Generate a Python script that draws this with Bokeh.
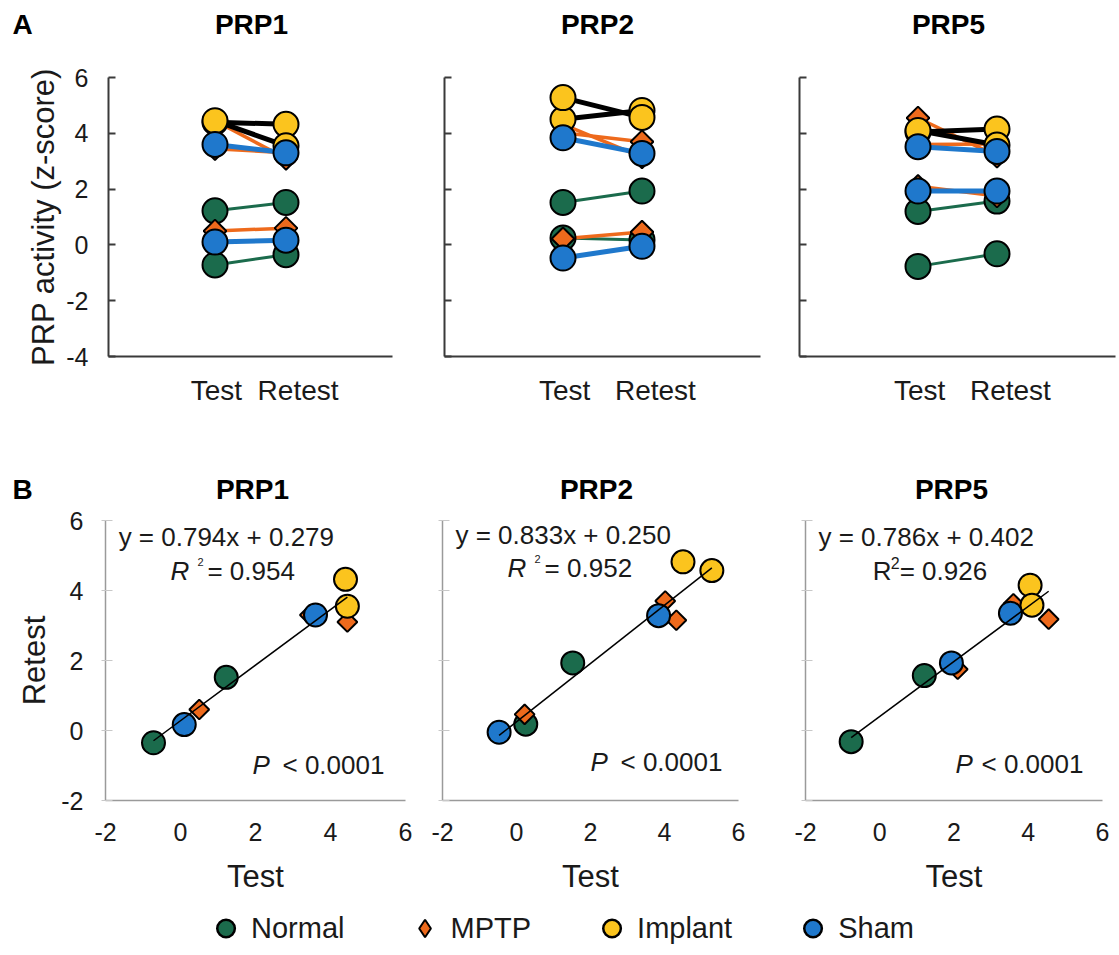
import numpy as np
from bokeh.plotting import figure
from bokeh.layouts import column, row
from bokeh.models import FixedTicker, Label, Legend, LegendItem, Range1d
from bokeh.embed import file_html
from bokeh.resources import INLINE

FONT = "Liberation Sans"

# ---------------- data ----------------
groups = ["Normal", "MPTP", "Implant", "Sham"]
panel_names = ["PRP1", "PRP2", "PRP5"]
phase_labels = ["Test", "Retest"]
phase_x = [1, 2]

# PRP1
prp1_normal_test = [-0.72, 1.22]
prp1_normal_retest = [-0.35, 1.52]
prp1_mptp_test = [0.50, 3.45, 4.45]
prp1_mptp_retest = [0.60, 3.30, 3.10]
prp1_implant_test = [4.40, 4.45]
prp1_implant_retest = [4.32, 3.55]
prp1_sham_test = [0.10, 3.60]
prp1_sham_retest = [0.17, 3.30]

# PRP2
prp2_normal_test = [0.25, 1.52]
prp2_normal_retest = [0.18, 1.93]
prp2_mptp_test = [0.22, 4.02, 4.32]
prp2_mptp_retest = [0.46, 3.70, 3.15]
prp2_implant_test = [4.50, 5.28]
prp2_implant_retest = [4.82, 4.57]
prp2_sham_test = [-0.47, 3.84]
prp2_sham_retest = [-0.05, 3.28]

# PRP5
prp5_normal_test = [-0.77, 1.20]
prp5_normal_retest = [-0.32, 1.57]
prp5_mptp_test = [2.10, 3.60, 4.55]
prp5_mptp_retest = [1.75, 3.62, 3.18]
prp5_implant_test = [4.05, 4.10]
prp5_implant_retest = [4.15, 3.58]
prp5_sham_test = [1.93, 3.52]
prp5_sham_retest = [1.93, 3.35]

fit_slopes = [0.794, 0.833, 0.786]
fit_intercepts = [0.279, 0.250, 0.402]
fit_r2 = [0.954, 0.952, 0.926]
p_text = "< 0.0001"

top_yticks = [-4, -2, 0, 2, 4, 6]
bottom_ticks = [-2, 0, 2, 4, 6]

panels_test = [
    {"Normal": prp1_normal_test, "MPTP": prp1_mptp_test, "Implant": prp1_implant_test, "Sham": prp1_sham_test},
    {"Normal": prp2_normal_test, "MPTP": prp2_mptp_test, "Implant": prp2_implant_test, "Sham": prp2_sham_test},
    {"Normal": prp5_normal_test, "MPTP": prp5_mptp_test, "Implant": prp5_implant_test, "Sham": prp5_sham_test},
]
panels_retest = [
    {"Normal": prp1_normal_retest, "MPTP": prp1_mptp_retest, "Implant": prp1_implant_retest, "Sham": prp1_sham_retest},
    {"Normal": prp2_normal_retest, "MPTP": prp2_mptp_retest, "Implant": prp2_implant_retest, "Sham": prp2_sham_retest},
    {"Normal": prp5_normal_retest, "MPTP": prp5_mptp_retest, "Implant": prp5_implant_retest, "Sham": prp5_sham_retest},
]

# ---------------- styles / layout constants ----------------
fill = {"Normal": "#1b6b4c", "MPTP": "#ee6a1c", "Implant": "#fbc41e", "Sham": "#1f78cc"}
line_col = {"Normal": "#1b6b4c", "MPTP": "#ee6a1c", "Implant": "#000000", "Sham": "#1f78cc"}
line_w = {"Normal": 3, "MPTP": 3.5, "Implant": 5, "Sham": 5}
AX_DARK = "#3a3a3a"
AX_LIGHT = "#9a9a9a"
TXT = "#1a1a1a"
TOTAL_W = 1117

top_xtick_pos = [1.02, 2.17]   # label placement for Test / Retest
top_title_x = [251, 597, 948]
bot_title_x = [252, 596, 951]


def base(p):
    p.outline_line_color = None
    p.xgrid.visible = False
    p.ygrid.visible = False


def draw_marker(p, g, xs, ys, circle_size, diamond_size):
    if g == "MPTP":
        p.scatter(x=xs, y=ys, marker="square", angle=np.pi / 4, size=diamond_size,
                  fill_color=fill[g], line_color="black", line_width=2)
    else:
        p.scatter(x=xs, y=ys, marker="circle", size=circle_size,
                  fill_color=fill[g], line_color="black", line_width=2)


def header(height, text_y, letter, title_x):
    h = figure(width=TOTAL_W, height=height, x_range=Range1d(0, TOTAL_W), y_range=Range1d(0, height),
               output_backend="svg", toolbar_location=None,
               x_axis_location=None, y_axis_location=None,
               min_border_left=0, min_border_right=0, min_border_top=0, min_border_bottom=0)
    base(h)
    style = dict(text_font=FONT, text_font_style="bold", text_font_size="28px",
                 text_color="black", text_baseline="middle")
    h.add_layout(Label(x=12, y=text_y, text=letter, text_align="left", **style))
    for name, x in zip(panel_names, title_x):
        h.add_layout(Label(x=x, y=text_y, text=name, text_align="center", **style))
    return h


# ---------------- top row ----------------
top_dims = [(420, 108, 28), (360, 24, 20), (337, 19, 2)]
top_figs = []
for i in range(3):
    w, ml, mr = top_dims[i]
    p = figure(width=w, height=380, x_range=Range1d(-0.5, 3.5), y_range=Range1d(-4, 6),
               output_backend="svg", toolbar_location=None,
               min_border_left=ml, min_border_right=mr, min_border_top=27, min_border_bottom=74)
    base(p)
    test, retest = panels_test[i], panels_retest[i]
    for g in groups:
        p.multi_line(xs=[phase_x] * len(test[g]),
                     ys=[[t, r] for t, r in zip(test[g], retest[g])],
                     line_color=line_col[g], line_width=line_w[g])
    for g in groups:
        xs = [phase_x[0]] * len(test[g]) + [phase_x[1]] * len(retest[g])
        draw_marker(p, g, xs, test[g] + retest[g], 25, 16)

    ya = p.yaxis[0]
    ya.ticker = FixedTicker(ticks=top_yticks)
    ya.major_label_overrides = {t: (str(t) if i == 0 else "") for t in top_yticks}
    ya.major_tick_in = 7
    ya.major_tick_out = 0
    ya.minor_tick_line_color = None
    ya.axis_line_width = 2
    ya.axis_line_color = AX_DARK
    ya.major_tick_line_color = AX_DARK
    ya.major_tick_line_width = 2
    ya.major_label_text_font = FONT
    ya.major_label_text_font_size = "25px"
    ya.major_label_text_color = TXT
    ya.major_label_standoff = 20
    if i == 0:
        ya.axis_label = "PRP activity (z-score)"
        ya.axis_label_text_font = FONT
        ya.axis_label_text_font_size = "31px"
        ya.axis_label_text_font_style = "normal"
        ya.axis_label_text_color = TXT
        ya.axis_label_standoff = 2

    xa = p.xaxis[0]
    xa.ticker = FixedTicker(ticks=top_xtick_pos)
    xa.major_label_overrides = {pos: lab for pos, lab in zip(top_xtick_pos, phase_labels)}
    xa.major_tick_line_color = None
    xa.minor_tick_line_color = None
    xa.axis_line_width = 2
    xa.axis_line_color = AX_DARK
    xa.major_label_text_font = FONT
    xa.major_label_text_font_size = "28px"
    xa.major_label_text_color = TXT
    xa.major_label_standoff = 12
    top_figs.append(p)

# ---------------- bottom row ----------------
bot_dims = [(423, 105, 18), (360, 19, 45), (334, 22, 15)]
eq_pos = [(-1.65, 5.52), (-1.65, 5.6), (-1.65, 5.52)]
r2_pos = [(-0.27, 4.57), (-0.24, 4.65), (-0.19, 4.57)]
pv_pos = [(1.92, -0.98), (2.0, -0.9), (2.04, -0.95)]

bot_figs = []
for i in range(3):
    w, ml, mr = bot_dims[i]
    p = figure(width=w, height=395, x_range=Range1d(-2, 6), y_range=Range1d(-2, 6),
               output_backend="svg", toolbar_location=None,
               min_border_left=ml, min_border_right=mr, min_border_top=15, min_border_bottom=100)
    base(p)
    test, retest = panels_test[i], panels_retest[i]
    for g in groups:
        draw_marker(p, g, test[g], retest[g], 23, 14)
    all_test = np.concatenate([test[g] for g in groups])
    fx = np.array([all_test.min(), all_test.max()])
    p.line(x=fx, y=fit_slopes[i] * fx + fit_intercepts[i], line_color="black", line_width=1.5)

    ya = p.yaxis[0]
    ya.ticker = FixedTicker(ticks=bottom_ticks)
    ya.major_label_overrides = {t: (str(t) if i == 0 else "") for t in bottom_ticks}
    ya.major_tick_in = 7
    ya.major_tick_out = 4
    ya.minor_tick_line_color = None
    ya.axis_line_width = 1.5
    ya.axis_line_color = AX_LIGHT
    ya.major_tick_line_color = "#c8c8c8"
    ya.major_tick_line_width = 1
    ya.major_label_text_font = FONT
    ya.major_label_text_font_size = "25px"
    ya.major_label_text_color = TXT
    ya.major_label_standoff = 18
    if i == 0:
        ya.axis_label = "Retest"
        ya.axis_label_text_font = FONT
        ya.axis_label_text_font_size = "31px"
        ya.axis_label_text_font_style = "normal"
        ya.axis_label_text_color = TXT
        ya.axis_label_standoff = 6

    xa = p.xaxis[0]
    xa.ticker = FixedTicker(ticks=bottom_ticks)
    xa.major_label_overrides = {t: str(t) for t in bottom_ticks}
    xa.major_tick_line_color = None
    xa.minor_tick_line_color = None
    xa.axis_line_width = 1.5
    xa.axis_line_color = AX_LIGHT
    xa.major_label_text_font = FONT
    xa.major_label_text_font_size = "25px"
    xa.major_label_text_color = TXT
    xa.major_label_standoff = 16
    xa.axis_label = "Test"
    xa.axis_label_text_font = FONT
    xa.axis_label_text_font_size = "31px"
    xa.axis_label_text_font_style = "normal"
    xa.axis_label_text_color = TXT
    xa.axis_label_standoff = 15

    lab = dict(text_font=FONT, text_font_size="26px", text_color=TXT, text_baseline="middle", text_align="left")
    ex, ey = eq_pos[i]
    p.add_layout(Label(x=ex, y=ey, text=f"y = {fit_slopes[i]:.3f}x + {fit_intercepts[i]:.3f}", **lab))
    rx, ry = r2_pos[i]
    if i < 2:
        p.add_layout(Label(x=rx, y=ry, text="R", text_font_style="italic", **lab))
        p.add_layout(Label(x=rx, y=ry, x_offset=27, y_offset=9, text="2", text_font=FONT,
                           text_font_size="11px", text_color=TXT, text_baseline="middle"))
        p.add_layout(Label(x=rx, y=ry, x_offset=37, text=f"= {fit_r2[i]:.3f}", **lab))
    else:
        p.add_layout(Label(x=rx, y=ry, text="R", **lab))
        p.add_layout(Label(x=rx, y=ry, x_offset=18, y_offset=8, text="2", text_font=FONT,
                           text_font_size="16px", text_color=TXT, text_baseline="middle"))
        p.add_layout(Label(x=rx, y=ry, x_offset=27, text=f"= {fit_r2[i]:.3f}", **lab))
    px, py = pv_pos[i]
    p.add_layout(Label(x=px, y=py, text="P", text_font_style="italic", **lab))
    p.add_layout(Label(x=px, y=py, x_offset=(30 if i < 2 else 26), text=p_text, **lab))
    bot_figs.append(p)

# ---------------- headers ----------------
head_top = header(50, 50 - 24, "A", top_title_x)
head_bot = header(75, 75 - 59, "B", bot_title_x)

# ---------------- legend ----------------
lf = figure(width=TOTAL_W, height=52, x_range=Range1d(-10, 10), y_range=Range1d(-10, 10),
            output_backend="svg", toolbar_location=None,
            x_axis_location=None, y_axis_location=None,
            min_border_left=0, min_border_right=0, min_border_top=0, min_border_bottom=0)
base(lf)
items = []
for g in groups:
    if g == "MPTP":
        r = lf.scatter(x=panels_test[0][g], y=panels_retest[0][g], marker="diamond", size=20,
                       fill_color=fill[g], line_color="black", line_width=2, visible=False)
    else:
        r = lf.scatter(x=panels_test[0][g], y=panels_retest[0][g], marker="circle", size=18,
                       fill_color=fill[g], line_color="black", line_width=2.5, visible=False)
    items.append(LegendItem(label=g, renderers=[r]))
leg = Legend(items=items, orientation="horizontal", location="bottom_center", spacing=58,
             label_text_font=FONT, label_text_font_size="29px", label_text_color=TXT,
             glyph_width=44, glyph_height=44, label_standoff=4, padding=0, margin=2,
             border_line_color=None, background_fill_alpha=0)
lf.add_layout(leg)

layout = column(head_top, row(*top_figs), head_bot, row(*bot_figs), lf)
open("out.html", "w").write(file_html(layout, INLINE))
